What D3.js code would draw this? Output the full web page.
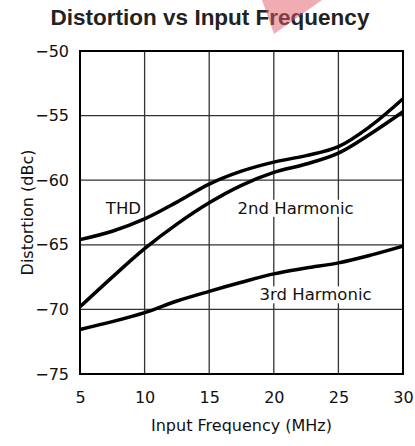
<!DOCTYPE html>
<html>
<head>
<meta charset="utf-8">
<script src="https://d3js.org/d3.v7.min.js"></script>
<style>
  body { margin: 0; background: #fff; }
  svg { display: block; }
</style>
</head>
<body>
<svg width="415" height="446"></svg>
<script>
// values (MHz, dBc)
var freq = [5, 7.5, 10, 12.5, 15, 17.5, 20, 22.5, 25, 27.5, 30];
var thd = [-64.6, -63.95, -63.0, -61.7, -60.3, -59.3, -58.6, -58.1, -57.4, -55.8, -53.7];
var second = [-69.8, -67.5, -65.3, -63.4, -61.75, -60.4, -59.4, -58.75, -57.9, -56.4, -54.7];
var third = [-71.55, -70.95, -70.25, -69.35, -68.6, -67.9, -67.25, -66.8, -66.4, -65.8, -65.1];

var xTicks = [5, 10, 15, 20, 25, 30];
var yTicks = [-50, -55, -60, -65, -70, -75];

var labels = [
    {text: "THD", f: 7.0, v: -62.6},
    {text: "2nd Harmonic", f: 17.2, v: -62.6},
    {text: "3rd Harmonic", f: 18.9, v: -69.3}
];

var svg = d3.select("svg"),
    margin = {top: 51, right: 12, bottom: 72, left: 80},
    width = 415 - margin.left - margin.right,
    height = 446 - margin.top - margin.bottom;

var x = d3.scaleLinear().domain([5, 30]).range([0, width]);
var y = d3.scaleLinear().domain([-75, -50]).range([height, 0]);

var g = svg.append("g")
    .attr("transform", "translate(" + margin.left + "," + margin.top + ")");

// grid
g.append("g")
    .selectAll("line")
    .data(xTicks)
    .enter().append("line")
    .attr("x1", function (d) {return x(d);})
    .attr("x2", function (d) {return x(d);})
    .attr("y1", 0)
    .attr("y2", height)
    .attr("stroke", "#333")
    .attr("stroke-width", 1.3);

g.append("g")
    .selectAll("line")
    .data(yTicks)
    .enter().append("line")
    .attr("x1", 0)
    .attr("x2", width)
    .attr("y1", function (d) {return y(d);})
    .attr("y2", function (d) {return y(d);})
    .attr("stroke", "#333")
    .attr("stroke-width", 1.3);

g.append("rect")
    .attr("width", width)
    .attr("height", height)
    .attr("fill", "none")
    .attr("stroke", "#000")
    .attr("stroke-width", 2);

// axes (labels only, grid does the rest)
var fmt = function (d) {return String(d).replace("-", "\u2212");};

var xAxis = g.append("g")
    .attr("transform", "translate(0," + height + ")")
    .call(d3.axisBottom(x).tickValues(xTicks).tickSize(0).tickPadding(18));
var yAxis = g.append("g")
    .call(d3.axisLeft(y).tickValues(yTicks).tickSize(0).tickPadding(11).tickFormat(fmt));

[xAxis, yAxis].forEach(function (a) {
    a.select(".domain").remove();
    a.selectAll("text")
        .attr("fill", "#111")
        .style("font-family", "DejaVu Sans")
        .style("font-size", "16px");
});

// curves
var line = d3.line()
    .x(function (d) {return x(d[0]);})
    .y(function (d) {return y(d[1]);})
    .curve(d3.curveCatmullRom.alpha(0.5));

[thd, second, third].forEach(function (s) {
    g.append("path")
        .datum(d3.zip(freq, s))
        .attr("d", line)
        .attr("fill", "none")
        .attr("stroke", "#000")
        .attr("stroke-width", 3.5)
        .attr("stroke-linejoin", "round");
});

// curve labels on a white backing so grid lines break around them
labels.forEach(function (l) {
    var t = g.append("text")
        .attr("x", x(l.f))
        .attr("y", y(l.v))
        .style("font-family", "DejaVu Sans")
        .style("font-size", "16.5px")
        .attr("fill", "#111")
        .text(l.text);
    var b = t.node().getBBox();
    g.insert("rect", function () {return t.node();})
        .attr("x", b.x - 3)
        .attr("y", b.y + 1)
        .attr("width", b.width + 6)
        .attr("height", b.height - 2)
        .attr("fill", "#fff");
});

// axis titles
svg.append("text")
    .attr("x", margin.left + width / 2)
    .attr("y", 431)
    .attr("text-anchor", "middle")
    .style("font-family", "DejaVu Sans")
    .style("font-size", "16px")
    .attr("fill", "#111")
    .text("Input Frequency (MHz)");

svg.append("text")
    .attr("transform", "translate(33," + (margin.top + height / 2) + ") rotate(-90)")
    .attr("text-anchor", "middle")
    .style("font-family", "DejaVu Sans")
    .style("font-size", "16px")
    .attr("fill", "#111")
    .text("Distortion (dBc)");

// title
svg.append("text")
    .attr("x", 210)
    .attr("y", 25)
    .attr("text-anchor", "middle")
    .style("font-family", "Liberation Sans, Arial, sans-serif")
    .style("font-weight", "bold")
    .style("font-size", "22.5px")
    .attr("fill", "#222")
    .text("Distortion vs Input Frequency");

// pink mark over the title
svg.append("polygon")
    .attr("points", "262,0 322,0 274,34")
    .attr("fill", "#e05a66")
    .attr("opacity", 0.5);
</script>
</body>
</html>
